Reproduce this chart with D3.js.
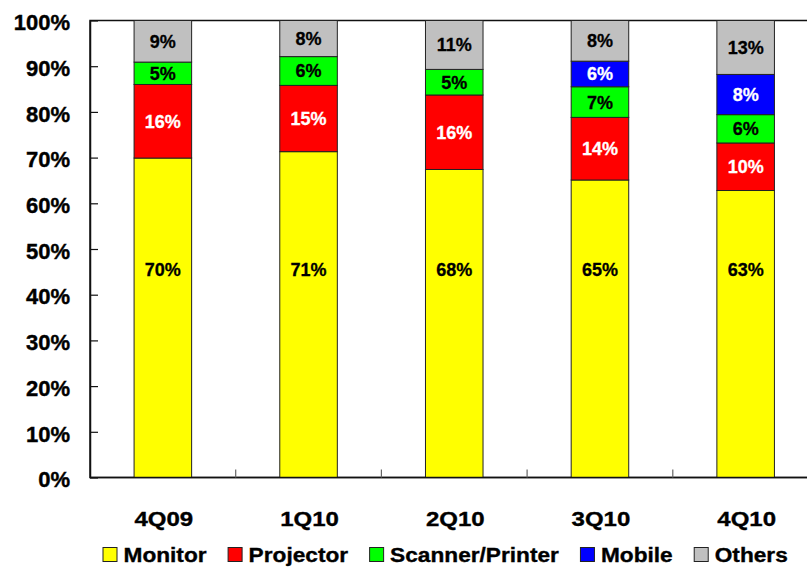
<!DOCTYPE html>
<html><head><meta charset="utf-8">
<script src="https://cdn.jsdelivr.net/npm/d3@7"></script>
<style>
html,body{margin:0;padding:0;background:#fff;overflow:hidden;}
text{font-family:"Liberation Sans",Arial,Helvetica,sans-serif;font-weight:bold;}
</style></head>
<body>
<script>
const categories = ["4Q09","1Q10","2Q10","3Q10","4Q10"];
const seriesNames = ["Monitor","Projector","Scanner/Printer","Mobile","Others"];
// bar segment heights (%)
const monitor   = [69.9,71.3,67.4,65.1,62.8];
const projector = [16.1,14.5,16.3,13.7,10.4];
const scanner   = [4.9,6.3,5.6,6.7,6.2];
const mobile    = [0,0,0,5.6,8.8];
const others    = [9.1,7.9,10.7,8.9,11.8];
// printed labels
const monitorLabels   = ["70%","71%","68%","65%","63%"];
const projectorLabels = ["16%","15%","16%","14%","10%"];
const scannerLabels   = ["5%","6%","5%","7%","6%"];
const mobileLabels    = ["","","","6%","8%"];
const othersLabels    = ["9%","8%","11%","8%","13%"];
const yTicks = [0,10,20,30,40,50,60,70,80,90,100];
const colors = ["#FFFF00","#FF0000","#00FF00","#0000FF","#C0C0C0"];
const labelColors = ["#000","#fff","#000","#fff","#000"];
const monitorLabelAt = 45.5;

const W = 807, H = 567;
const margin = {left:90, top:20.5, bottom:89.5};
const plotW = 728.5;
const plotH = H - margin.top - margin.bottom;

const svg = d3.select("body").append("svg").attr("width",W).attr("height",H);
const g = svg.append("g").attr("transform",`translate(${margin.left},${margin.top})`);

const x = d3.scaleBand().domain(categories).range([0,plotW]).paddingInner(0.605).paddingOuter(0.3025);
const y = d3.scaleLinear().domain([0,100]).range([plotH,0]);

const series = [monitor,projector,scanner,mobile,others];
const labels = [monitorLabels,projectorLabels,scannerLabels,mobileLabels,othersLabels];
const rows = categories.map((c,i)=>{const r={cat:c,i:i}; seriesNames.forEach((s,j)=>r[s]=series[j][i]); return r;});
const stacked = d3.stack().keys(seriesNames)(rows);

// frame
g.append("rect").attr("x",0).attr("y",0).attr("width",plotW).attr("height",plotH)
  .attr("fill","none").attr("stroke","#111").attr("stroke-width",1.5);

// bars
stacked.forEach((layer,j)=>{
  g.append("g").selectAll("rect").data(layer.filter(d=>d[1]-d[0]>0)).join("rect")
    .attr("x",d=>x(d.data.cat)).attr("width",x.bandwidth())
    .attr("y",d=>y(d[1])).attr("height",d=>y(d[0])-y(d[1]))
    .attr("fill",colors[j]).attr("stroke","#222").attr("stroke-width",1);
});

// value labels
stacked.forEach((layer,j)=>{
  g.append("g").selectAll("text").data(layer.filter(d=>d[1]-d[0]>0)).join("text")
    .attr("x",d=>x(d.data.cat)+x.bandwidth()/2)
    .attr("y",d=> j===0 ? y(monitorLabelAt) : y((d[0]+d[1])/2))
    .attr("dy","0.36em").attr("text-anchor","middle")
    .attr("font-size",18).attr("fill",labelColors[j])
    .attr("stroke",labelColors[j]).attr("stroke-width",0.3)
    .text(d=>labels[j][d.data.i]);
});

// y axis
const yAxis = d3.axisLeft(y).tickValues(yTicks).tickFormat(d=>d+"%").tickSizeInner(-8).tickSizeOuter(0).tickPadding(20);
const ya = g.append("g").call(yAxis);
ya.select(".domain").attr("stroke","#111").attr("stroke-width",1.5);
ya.selectAll(".tick line").attr("stroke","#111").attr("stroke-width",1.2);
ya.selectAll(".tick text").attr("font-size",22).attr("fill","#000").attr("dy","0.42em")
  .attr("stroke","#000").attr("stroke-width",0.4)
  .style("font-family","'Liberation Sans',Arial,sans-serif").style("font-weight","bold");

// x axis
const xa = g.append("g").attr("transform",`translate(0,${plotH})`);
xa.append("line").attr("x1",0).attr("x2",plotW).attr("stroke","#111").attr("stroke-width",1.5);
const step = x.step();
xa.selectAll("line.bt").data(categories.slice(1)).join("line").attr("class","bt")
  .attr("x1",d=>x(d)-x.paddingOuter()*step).attr("x2",d=>x(d)-x.paddingOuter()*step)
  .attr("y1",0).attr("y2",-8).attr("stroke","#666").attr("stroke-width",1.2);
xa.selectAll("text").data(categories).join("text")
  .attr("transform",d=>`translate(${x(d)+x.bandwidth()/2+1},48.5) scale(1.2,1)`)
  .attr("text-anchor","middle").attr("font-size",20)
  .attr("stroke","#000").attr("stroke-width",0.35)
  .attr("fill","#000").text(d=>d);

// legend
const leg = svg.append("g").attr("transform","translate(102.5,0)");
let cx = 0;
seriesNames.forEach((s,j)=>{
  leg.append("rect").attr("x",cx+0.5).attr("y",547.5).attr("width",14).attr("height",14)
    .attr("fill",colors[j]).attr("stroke","#222").attr("stroke-width",1);
  const t = leg.append("text").attr("transform",`translate(${cx+21},561.5) scale(1.08,1)`).attr("font-size",21)
    .attr("stroke","#000").attr("stroke-width",0.35)
    .attr("fill","#000").text(s);
  cx += 21 + t.node().getComputedTextLength()*1.08 + 21;
});
</script>
</body></html>
